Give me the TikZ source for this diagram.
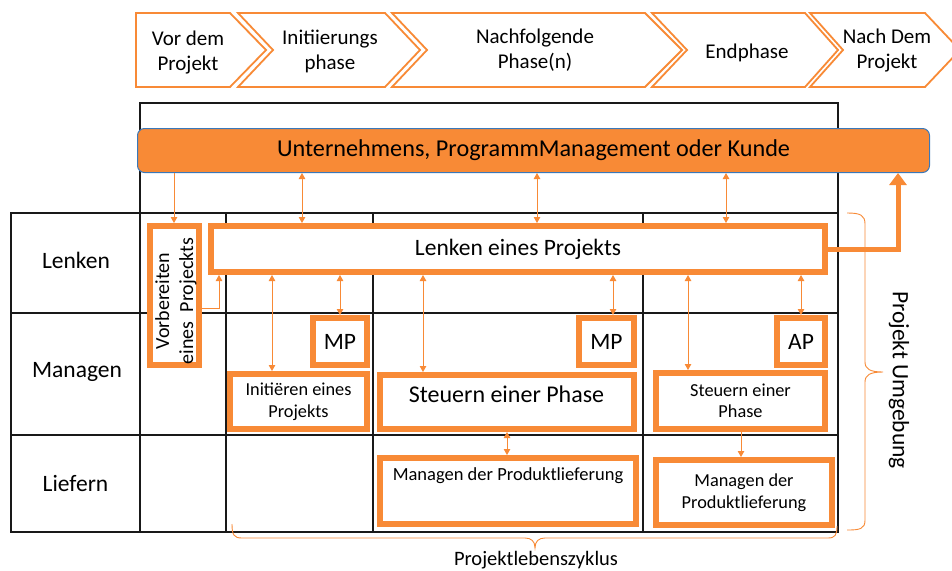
\documentclass[tikz,border=0pt]{standalone}
\usepackage{fontspec}
\setmainfont{Carlito}
\usetikzlibrary{arrows.meta}
\definecolor{org}{RGB}{248,138,54}
\definecolor{barblue}{RGB}{58,120,185}
\newcommand\fsz[2]{\fontsize{#1}{#2}\selectfont}
\begin{document}
\begin{tikzpicture}[x=1pt,y=-1pt,
  chev/.style={draw=org,line width=1.8pt,fill=white,line join=miter},
  chevtext/.style={align=center,font=\fsz{21}{25}},
  gridline/.style={draw=black!90,line width=1.4pt},
  obox/.style={draw=org,line width=6pt,fill=white,inner sep=0pt,align=center},
  big/.style={font=\fsz{23.5}{28}},
  small/.style={font=\fsz{18.3}{21.5}},
  tarr/.style={draw=org,line width=1pt,{Triangle[length=6pt,width=6.5pt]}-{Triangle[length=6pt,width=6.5pt]}},
  sarr/.style={draw=org,line width=1pt,-{Triangle[length=6pt,width=6.5pt]}},
  bracestyle/.style={draw=org,line width=0.9pt},
  lbl/.style={anchor=base,font=\fsz{23.5}{28}}
]
\useasboundingbox (0,0) rectangle (952,570);
\clip (0,0) rectangle (952,570);
\fill[white] (0,0) rectangle (952,570);

% phase chevrons
\draw[chev] (136,13) -- (230,13) -- (266,50) -- (230,87) -- (136,87) -- cycle;
\node[chevtext] (c1) at (188,53) {Vor dem\\Projekt};
\draw[chev] (238,13) -- (385,13) -- (420,50) -- (385,87) -- (238,87) -- (273,50) -- cycle;
\node[chevtext] (c2) at (330,51) {Initiierungs\\phase};
\draw[chev] (392,13) -- (645,13) -- (682,50) -- (645,87) -- (392,87) -- (427,50) -- cycle;
\node[chevtext] (c3) at (535,50) {Nachfolgende\\Phase(n)};
\draw[chev] (652,13) -- (805,13) -- (838,50) -- (805,87) -- (652,87) -- (687,50) -- cycle;
\node[chevtext,anchor=base] (c4) at (747,58) {Endphase};
\draw[chev] (810,13) -- (925,13) -- (960,50) -- (925,87) -- (810,87) -- (843,50) -- cycle;
\node[chevtext] (c5) at (887,51) {Nach Dem\\Projekt};

% grid
\draw[gridline] (140,213) -- (140,103) -- (838,103) -- (838,213);
\draw[gridline] (11,213) rectangle (838,532);
\foreach \yy in {313,435} \draw[gridline] (11,\yy) -- (838,\yy);
\foreach \xx in {140,226,373,643} \draw[gridline] (\xx,213) -- (\xx,532);

% bar
\node[draw=barblue,line width=1pt,fill=org,rounded corners=7pt,minimum width=792pt,minimum height=44pt,inner sep=0pt,font=\fsz{24.2}{29}] (bar) at (533.5,150.5) {Unternehmens, ProgrammManagement oder Kunde};

% boxes
\node[obox,minimum width=614pt,minimum height=46pt,big] (lenk) at (518,249) {Lenken eines Projekts};
\node[obox,minimum width=49pt,minimum height=139pt] (vorb) at (174.5,295.5) {};
\node[rotate=90,align=center,font=\fsz{20}{24}] (vorbt) at (176,301) {Vorbereiten\\eines\ \ Projeckts};
\node[obox,minimum width=54pt,minimum height=47pt,big] (mp1) at (340,341.5) {MP};
\node[obox,minimum width=137pt,minimum height=55pt,small] (init) at (298.5,401.5) {Initiëren eines\\Projekts};
\node[obox,minimum width=254pt,minimum height=54pt] (steu1) at (507,402) {};
\node[font=\fsz{24}{28},anchor=base] (steu1t) at (506.5,402) {Steuern einer Phase};
\node[obox,minimum width=55pt,minimum height=47pt,big] (mp2) at (606.5,341.5) {MP};
\node[obox,minimum width=48pt,minimum height=47pt,big] (ap) at (801,341.5) {AP};
\node[obox,minimum width=169pt,minimum height=56pt,small] (steu2) at (740.5,401) {Steuern einer\\Phase};
\node[obox,minimum width=256pt,minimum height=66pt] (man1) at (508,491) {};
\node[anchor=base,font=\fsz{18.5}{22}] (man1t) at (508,480) {Managen der Produktlieferung};
\node[obox,minimum width=176pt,minimum height=65pt,small] (man2) at (744,492.5) {Managen der\\Produktlieferung};

% connectors
\draw[sarr] (174,0 |- bar.south) -- (174,0 |- vorb.north);
\foreach \xx in {302,537,726} \draw[tarr] (\xx,0 |- bar.south) -- (\xx,0 |- lenk.north);
\draw[sarr] (vorb.east |- 0,308) -| (219,0 |- lenk.south);
\draw[tarr] (272,0 |- lenk.south) -- (272,0 |- init.north);
\draw[tarr] (340,0 |- lenk.south) -- (mp1.north);
\draw[tarr] (423,0 |- lenk.south) -- (423,0 |- steu1.north);
\draw[tarr] (613,0 |- lenk.south) -- (613,0 |- mp2.north);
\draw[tarr] (688,0 |- lenk.south) -- (688,0 |- steu2.north);
\draw[tarr] (801,0 |- lenk.south) -- (ap.north);
\draw[tarr] (507,0 |- steu1.south) -- (507,0 |- man1.north);
\draw[sarr] (741,0 |- steu2.south) -- (741,0 |- man2.north);
\draw[org,line width=5pt,-{Triangle[length=12pt,width=17pt]}] (lenk.east) -| (898,0 |- bar.south);

% braces
\draw[bracestyle] (847,213) .. controls (860,213) and (865,215) .. (865,224) -- (865,362) .. controls (865,369) and (870,372) .. (883,372) .. controls (870,372) and (865,375) .. (865,382) -- (865,520) .. controls (865,529) and (860,530) .. (847,530);
\draw[bracestyle] (232,524) .. controls (232,535) and (234,538) .. (242,538) -- (525,538) .. controls (531,538) and (535,541) .. (535,548) .. controls (535,541) and (539,538) .. (545,538) -- (828,538) .. controls (835,538) and (837,535) .. (837,526);

% labels
\node[lbl] (rl1) at (76,268) {Lenken};
\node[lbl] (rl2) at (77,377) {Managen};
\node[lbl] (rl3) at (75.5,491) {Liefern};
\node[rotate=-90,font=\fsz{23.5}{28}] (umg) at (899,380) {Projekt Umgebung};
\node[anchor=base,font=\fsz{20.5}{24}] (plz) at (536,565) {Projektlebenszyklus};
\end{tikzpicture}
\end{document}
